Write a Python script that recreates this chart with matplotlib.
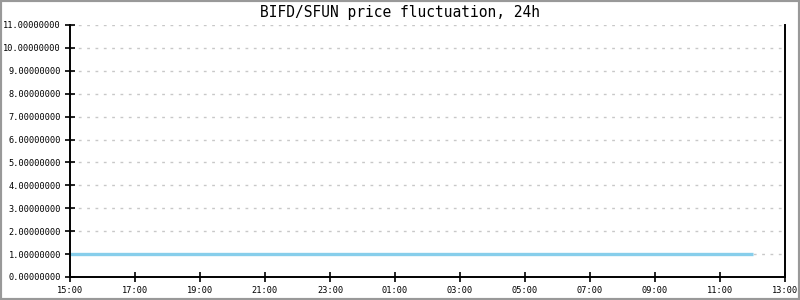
import matplotlib
matplotlib.use("Agg")
import matplotlib.pyplot as plt
import numpy as np

title = "BIFD/SFUN price fluctuation, 24h"
# hours since 15:00
times = [0, 21]
prices = [1.0, 1.0]
xtick_pos = list(range(0, 23, 2))
xtick_labels = ["15:00", "17:00", "19:00", "21:00", "23:00", "01:00", "03:00",
                "05:00", "07:00", "09:00", "11:00", "13:00"]
yticks = list(range(0, 12))

fig = plt.figure(figsize=(8, 3), dpi=100)
fig.patch.set_facecolor("white")
ax = fig.add_axes([70/800, 1-277/300, (785-70)/800, (277-25)/300])

ax.plot(times, prices, color="#87CEEB", lw=2.4, solid_capstyle="butt")
ax.set_xlim(0, 22)
ax.set_ylim(0, 11)
ax.set_xticks(xtick_pos)
ax.set_xticklabels(xtick_labels)
ax.set_yticks(yticks)
ax.set_yticklabels([f"{v:.8f}" for v in yticks])
for lab in ax.get_xticklabels() + ax.get_yticklabels():
    lab.set_fontfamily("DejaVu Sans Mono")
    lab.set_fontsize(6.2)
ax.tick_params(direction="inout", length=7, width=1.2, colors="black", pad=3)
ax.grid(axis="y", color="#c8c8c8", linestyle=(0, (2, 4)), lw=1)
ax.spines["top"].set_visible(False)
for s in ["left", "bottom", "right"]:
    ax.spines[s].set_linewidth(1.4)
ax.set_axisbelow(True)

fig.text(0.5, 1-12/300, title, ha="center", va="center",
         fontfamily="DejaVu Sans Mono", fontsize=10.5)

# gray border around figure
border = plt.Rectangle((0, 0), 1, 1, transform=fig.transFigure, fill=False,
                       edgecolor="#999999", lw=3, clip_on=False)
fig.add_artist(border)

fig.savefig("out.png", dpi=100)
